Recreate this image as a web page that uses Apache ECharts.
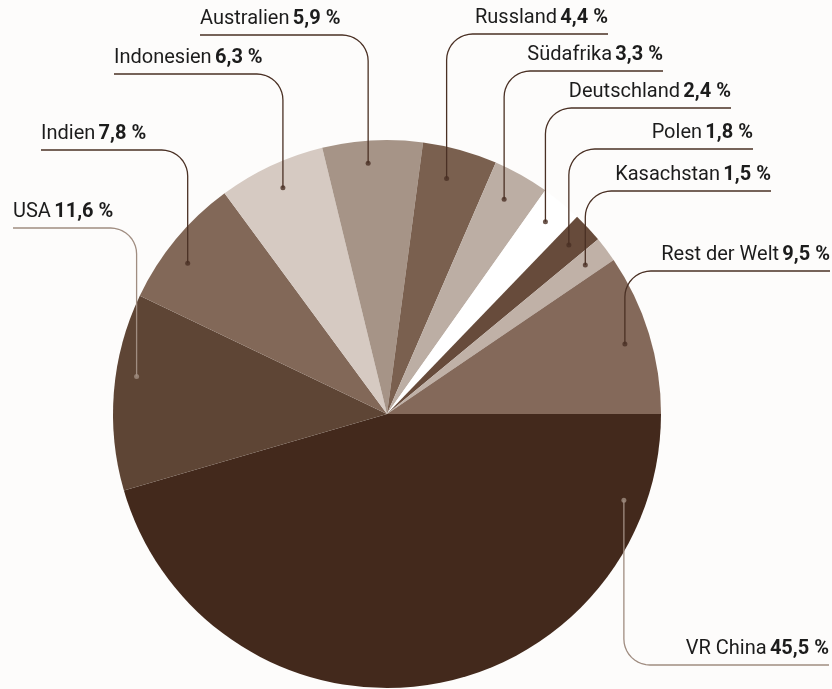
<!DOCTYPE html>
<html>
<head>
<meta charset="utf-8">
<style>
  html, body { margin: 0; padding: 0; background: #fdfcfb; }
  #main { width: 832px; height: 689px; }
</style>
<script src="https://cdn.jsdelivr.net/npm/echarts@6/dist/echarts.min.js"></script>
</head>
<body>
<div id="main"></div>
<script>
// Länder und Anteile in %
const countries = ['VR China', 'USA', 'Indien', 'Indonesien', 'Australien', 'Russland', 'Südafrika', 'Deutschland', 'Polen', 'Kasachstan', 'Rest der Welt'];
const shares = [45.5, 11.6, 7.8, 6.3, 5.9, 4.4, 3.3, 2.4, 1.8, 1.5, 9.5];

// Farben der Segmente
const sliceColors = ['#43291c', '#5e4535', '#826858', '#d6cac2', '#a69487', '#7a604f', '#bcaea4', '#ffffff', '#674b3b', '#c0b1a7', '#84695a'];

// Lage der Beschriftungen (Layout)
const labelSide = ['below', 'left', 'left', 'left', 'left', 'right', 'right', 'right', 'right', 'right', 'right'];
const labelEdgeX = [829, 13, 41, 114, 200, 608, 663, 731, 753, 771, 830];
const labelLineY = [665, 228, 150, 74, 35, 34, 71, 108, 149, 191, 271];
// Ankerpunkte im Kreis: Winkel (Grad, im Uhrzeigersinn ab 3 Uhr) und relativer Radius
const anchorDeg = [20, 188.5, 217.1, 245.3, 265.7, 284.2, 298.6, 309.5, 317.1, 323.1, 343.6];
const anchorR = [0.92, 0.924, 0.912, 0.909, 0.918, 0.887, 0.893, 0.909, 0.906, 0.905, 0.905];

const cx = 387, cy = 414, R = 274; // Kreis
const cornerR = 26; // Radius der Ecken der Führungslinien
const darkLine = '#4a3024';
const lightLine = '#a08d81';

function fmt(v) {
    return v.toFixed(1).replace('.', ',') + ' %';
}
function lineColor(i) {
    return (i === 0 || i === 1) ? lightLine : darkLine;
}
function arc(ox, oy, a0, a1) {
    let pts = [];
    for (let k = 0; k <= 10; k++) {
        const a = (a0 + (a1 - a0) * k / 10) * Math.PI / 180;
        pts.push([ox + cornerR * Math.cos(a), oy + cornerR * Math.sin(a)]);
    }
    return pts;
}

// Segmente
let pieData = countries.map(function (name, i) {
    return { name: name, value: shares[i], itemStyle: { color: sliceColors[i] } };
});
// gleiche Werte, nur für Beschriftung und Linien (liegt oben)
let labelData = countries.map(function (name, i) {
    return {
        name: name,
        value: shares[i],
        labelLine: { lineStyle: { color: lineColor(i), width: 1.3 } }
    };
});
let dotData = countries.map(function (name, i) {
    return {
        value: [anchorR[i], anchorDeg[i]],
        itemStyle: { color: lineColor(i) }
    };
});

let myChart = echarts.init(document.getElementById('main'));
let option = {
    backgroundColor: '#fdfcfb',
    animation: false,
    polar: { center: [cx, cy], radius: R },
    angleAxis: {
        type: 'value', min: 0, max: 360, startAngle: 0, clockwise: true,
        show: false
    },
    radiusAxis: { type: 'value', min: 0, max: 1, show: false },
    series: [
        {
            type: 'pie',
            center: [cx, cy],
            radius: R,
            startAngle: 0,
            clockwise: true,
            z: 2,
            itemStyle: { borderWidth: 0 },
            label: { show: false },
            labelLine: { show: false },
            emphasis: { disabled: true },
            silent: true,
            data: pieData
        },
        {
            type: 'pie',
            center: [cx, cy],
            radius: R,
            startAngle: 0,
            clockwise: true,
            z: 5,
            avoidLabelOverlap: false,
            itemStyle: { color: 'rgba(0,0,0,0)', borderWidth: 0 },
            label: {
                show: true,
                position: 'outside',
                formatter: function (p) {
                    return '{n|' + p.name + '} {b|' + fmt(p.value) + '}';
                },
                rich: {
                    n: { fontFamily: 'Roboto', fontSize: 20, color: '#1c1c1c', lineHeight: 22 },
                    b: { fontFamily: 'Roboto', fontSize: 20, fontWeight: 'bold', color: '#1c1c1c', lineHeight: 22 }
                }
            },
            labelLine: { show: true, length: 10, length2: 10 },
            labelLayout: function (params) {
                const i = params.dataIndex;
                const a = anchorDeg[i] * Math.PI / 180;
                const dx = cx + R * anchorR[i] * Math.cos(a);
                const dy = cy + R * anchorR[i] * Math.sin(a);
                const ly = labelLineY[i];
                const ex = labelEdgeX[i];
                let pts;
                if (labelSide[i] === 'left') {
                    pts = [[ex, ly]].concat(arc(dx - cornerR, ly + cornerR, -90, 0), [[dx, dy]]);
                    return { x: ex, y: ly - 5, align: 'left', verticalAlign: 'bottom', labelLinePoints: pts };
                } else if (labelSide[i] === 'right') {
                    pts = [[ex, ly]].concat(arc(dx + cornerR, ly + cornerR, 270, 180), [[dx, dy]]);
                    return { x: ex, y: ly - 5, align: 'right', verticalAlign: 'bottom', labelLinePoints: pts };
                } else {
                    pts = [[ex, ly]].concat(arc(dx + cornerR, ly - cornerR, 90, 180), [[dx, dy]]);
                    return { x: ex, y: ly - 5, align: 'right', verticalAlign: 'bottom', labelLinePoints: pts };
                }
            },
            emphasis: { disabled: true },
            silent: true,
            data: labelData
        },
        {
            type: 'scatter',
            coordinateSystem: 'polar',
            symbol: 'circle',
            symbolSize: 5,
            z: 10,
            silent: true,
            data: dotData
        }
    ]
};
myChart.setOption(option);
</script>
</body>
</html>
